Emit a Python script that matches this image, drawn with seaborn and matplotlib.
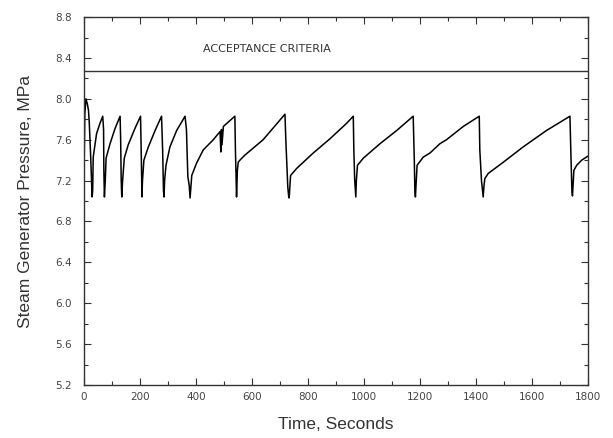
import seaborn as sns
import pandas as pd
import matplotlib.pyplot as plt
from matplotlib.ticker import MultipleLocator

# values
time = [0, 3, 7, 12, 16, 19, 24, 27, 29, 31, 33, 45, 57, 67, 70, 71, 73,
        76, 79, 93, 111, 129, 131, 133, 135, 138,
        144, 158, 182, 202, 205, 207, 209,
        214, 230, 254, 277, 281, 284, 286, 288,
        293, 307, 331, 361, 366, 371, 376, 379, 385,
        402, 426, 462, 486, 489, 491, 493, 498, 539, 541, 545, 548,
        551, 557, 575, 640, 718, 721, 728, 731, 733, 738,
        760, 819, 879, 938, 962, 964, 967, 971, 973, 977,
        998, 1057, 1117, 1176, 1180, 1182, 1184, 1187, 1190,
        1212, 1236, 1271, 1295, 1355, 1412, 1414, 1420, 1426, 1429, 1432,
        1444, 1498, 1569, 1652, 1736, 1739, 1743, 1745, 1750, 1760, 1778, 1795, 1800]
pressure = [7.25, 7.85, 8.0, 7.95, 7.89, 7.76, 7.43, 7.2, 7.04, 7.1, 7.43, 7.66, 7.76, 7.83, 7.7, 7.3, 7.04,
            7.2, 7.42, 7.56, 7.71, 7.83, 7.6, 7.2, 7.04, 7.2,
            7.42, 7.55, 7.71, 7.83, 7.4, 7.04, 7.2,
            7.40, 7.53, 7.69, 7.83, 7.5, 7.1, 7.04, 7.2,
            7.35, 7.53, 7.69, 7.83, 7.7, 7.24, 7.15, 7.03, 7.25,
            7.37, 7.50, 7.60, 7.68, 7.48, 7.7, 7.55, 7.73, 7.83, 7.5, 7.04, 7.3,
            7.38, 7.40, 7.45, 7.60, 7.85, 7.6, 7.14, 7.05, 7.03, 7.25,
            7.32, 7.47, 7.61, 7.76, 7.83, 7.5, 7.21, 7.04, 7.2, 7.35,
            7.42, 7.56, 7.69, 7.83, 7.4, 7.1, 7.04, 7.2, 7.35,
            7.43, 7.47, 7.56, 7.60, 7.73, 7.83, 7.5, 7.20, 7.04, 7.15, 7.22,
            7.27, 7.38, 7.53, 7.69, 7.83, 7.5, 7.1, 7.05, 7.30, 7.35, 7.40, 7.43, 7.44]

criteria = 8.27
criteria_label = 'ACCEPTANCE CRITERIA'

data = pd.DataFrame({'t': time, 'p': pressure})

sns.set_style('ticks')
plt.rcParams['font.family'] = ['Liberation Sans', 'DejaVu Sans']

fig = plt.figure(figsize=(6.13, 4.38), dpi=100)
ax = fig.add_axes([0.137, 0.121, 0.822, 0.840])

sns.lineplot(x='t', y='p', data=data, color='black', linewidth=1.1, ax=ax)
ax.axhline(criteria, color='#333333', linewidth=1.0)
ax.text(425, 8.49, criteria_label, fontsize=8, color='#333333', va='center', ha='left',
        family='DejaVu Sans')

ax.set_xlim(0, 1800)
ax.set_ylim(5.2, 8.8)
ax.xaxis.set_major_locator(MultipleLocator(200))
ax.xaxis.set_minor_locator(MultipleLocator(100))
ax.yaxis.set_major_locator(MultipleLocator(0.4))
ax.yaxis.set_minor_locator(MultipleLocator(0.2))
ax.yaxis.set_major_formatter(plt.FormatStrFormatter('%.1f'))
ax.tick_params(which='both', direction='in', top=True, right=True, color='#333333', width=0.8)
ax.tick_params(which='major', length=5, labelsize=7.5, labelcolor='#444444')
ax.tick_params(axis='x', which='major', pad=5)
ax.tick_params(axis='y', which='major', pad=9)
ax.tick_params(which='minor', length=3)
for lab in ax.get_xticklabels() + ax.get_yticklabels():
    lab.set_family('DejaVu Sans')
for s in ax.spines.values():
    s.set_color('#333333')
    s.set_linewidth(1.0)

ax.set_xlabel('Time, Seconds', fontsize=12.5, color='#333333', labelpad=11)
ax.set_ylabel('Steam Generator Pressure, MPa', fontsize=12.5, color='#333333', labelpad=16)

plt.savefig('out.png', dpi=100)
plt.close()
